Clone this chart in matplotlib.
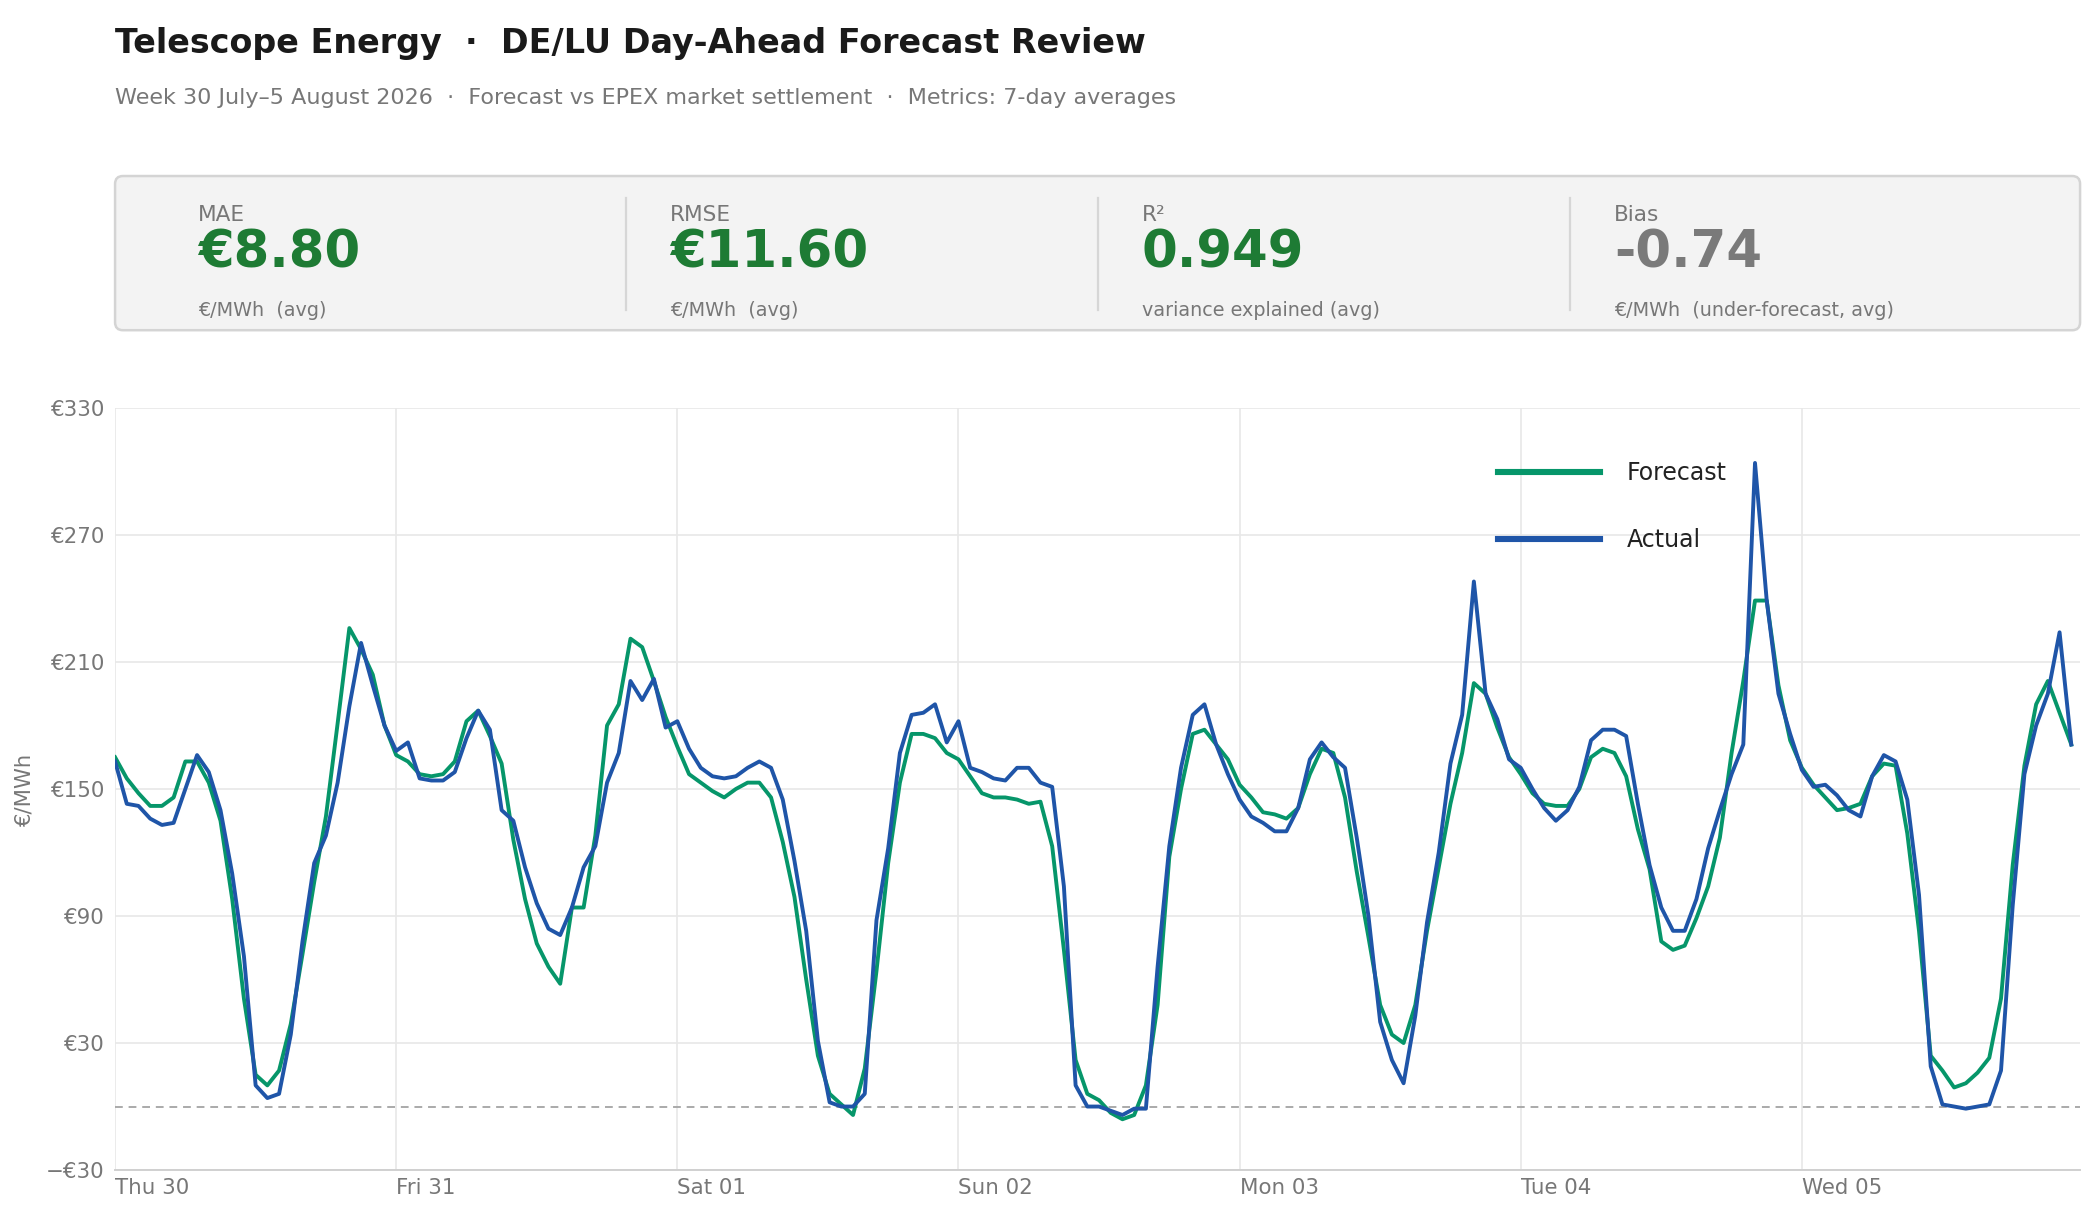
import numpy as np
import pandas as pd
import matplotlib
matplotlib.use('Agg')
import matplotlib.pyplot as plt
from matplotlib.patches import FancyBboxPatch

# hourly day-ahead prices, EUR/MWh (Thu 30 Jul .. Wed 05 Aug 2026)
forecast_thu = [165, 155, 148, 142, 142, 146, 163, 163, 153, 135, 98, 51, 15, 10, 17, 39, 72, 106, 137, 181, 226, 216, 204, 180]
forecast_fri = [166, 163, 157, 156, 157, 163, 182, 187, 175, 162, 126, 98, 77, 66, 58, 94, 94, 128, 180, 190, 221, 217, 201, 184]
forecast_sat = [170, 157, 153, 149, 146, 150, 153, 153, 146, 125, 99, 60, 24, 6, 1, -4, 18, 64, 115, 153, 176, 176, 174, 167]
forecast_sun = [164, 156, 148, 146, 146, 145, 143, 144, 123, 74, 22, 6, 3, -3, -6, -4, 10, 48, 118, 150, 176, 178, 171, 164]
forecast_mon = [152, 146, 139, 138, 136, 141, 157, 169, 167, 146, 111, 80, 48, 34, 30, 48, 83, 113, 143, 167, 200, 195, 179, 165]
forecast_tue = [157, 148, 143, 142, 142, 150, 165, 169, 167, 156, 131, 112, 78, 74, 76, 89, 104, 127, 167, 201, 239, 239, 199, 173]
forecast_wed = [160, 152, 146, 140, 141, 143, 156, 162, 161, 129, 83, 24, 17, 9, 11, 16, 23, 51, 114, 161, 190, 201, 186, 171]

actual_thu = [163, 143, 142, 136, 133, 134, 150, 166, 158, 140, 110, 71, 10, 4, 6, 34, 78, 115, 128, 153, 189, 219, 199, 180]
actual_fri = [168, 172, 155, 154, 154, 158, 174, 187, 178, 140, 135, 113, 96, 84, 81, 94, 113, 123, 153, 167, 201, 192, 202, 179]
actual_sat = [182, 169, 160, 156, 155, 156, 160, 163, 160, 145, 116, 83, 31, 2, 0, 0, 6, 88, 122, 167, 185, 186, 190, 172]
actual_sun = [182, 160, 158, 155, 154, 160, 160, 153, 151, 104, 10, 0, 0, -2, -4, -1, -1, 66, 123, 160, 185, 190, 171, 157]
actual_mon = [145, 137, 134, 130, 130, 141, 164, 172, 165, 160, 127, 90, 40, 22, 11, 43, 87, 120, 162, 185, 248, 195, 183, 164]
actual_tue = [160, 150, 141, 135, 140, 151, 173, 178, 178, 175, 143, 114, 94, 83, 83, 98, 122, 140, 157, 171, 304, 239, 195, 176]
actual_wed = [159, 151, 152, 147, 140, 137, 156, 166, 163, 145, 100, 19, 1, 0, -1, 0, 1, 17, 95, 157, 180, 195, 224, 171]

forecast = np.array(forecast_thu + forecast_fri + forecast_sat + forecast_sun + forecast_mon + forecast_tue + forecast_wed, dtype=float)
actual = np.array(actual_thu + actual_fri + actual_sat + actual_sun + actual_mon + actual_tue + actual_wed, dtype=float)
hours = pd.date_range('2026-07-30 00:00', periods=len(forecast), freq='h')
days = pd.date_range('2026-07-30', periods=7, freq='D')

kpi_labels = ['MAE', 'RMSE', 'R²', 'Bias']
kpi_values = ['€8.80', '€11.60', '0.949', '-0.74']
kpi_notes = ['€/MWh  (avg)', '€/MWh  (avg)', 'variance explained (avg)', '€/MWh  (under-forecast, avg)']
kpi_colors = ['#1e7b34', '#1e7b34', '#1e7b34', '#7a7a7a']

y_ticks = [-30, 30, 90, 150, 210, 270, 330]

GREEN = '#06966a'
BLUE = '#1f55a8'
GREY = '#777777'

fig = plt.figure(figsize=(10.48, 6.07), dpi=200)

fig.text(0.0549, 0.964, 'Telescope Energy  ·  DE/LU Day-Ahead Forecast Review',
         fontsize=12, fontweight='bold', color='#1a1a1a', va='center')
fig.text(0.0549, 0.9196, 'Week 30 July–5 August 2026  ·  Forecast vs EPEX market settlement  ·  Metrics: 7-day averages',
         fontsize=8, color=GREY, va='center')

# KPI strip
kpi = fig.add_axes([0.0549, 0.728, 0.9375, 0.127])
kpi.set_xlim(0, 1)
kpi.set_ylim(0, 1)
kpi.axis('off')
box = FancyBboxPatch((0, 0), 1, 1, boxstyle='round,pad=0,rounding_size=0.004', mutation_aspect=12.76,
                     fc='#f3f3f3', ec='#d4d4d4', lw=0.9, transform=kpi.transAxes, clip_on=False)
kpi.add_patch(box)
col_x = [0.0422, 0.2824, 0.5226, 0.7628]
for i in range(4):
    kpi.text(col_x[i], 0.75, kpi_labels[i], fontsize=7.8, color=GREY, va='center')
    kpi.text(col_x[i], 0.50, kpi_values[i], fontsize=18.5, fontweight='bold', color=kpi_colors[i], va='center')
    kpi.text(col_x[i], 0.13, kpi_notes[i], fontsize=6.9, color=GREY, va='center')
    if i > 0:
        xd = col_x[i] - 0.0224
        kpi.plot([xd, xd], [0.13, 0.86], color='#d6d6d6', lw=0.8)

# price chart
ax = fig.add_axes([0.0549, 0.0362, 0.9375, 0.6278])
ax.plot(hours, forecast, color=GREEN, lw=1.4, label='Forecast', zorder=3)
ax.plot(hours, actual, color=BLUE, lw=1.4, label='Actual', zorder=3)
ax.axhline(0, color='#aaaaaa', lw=0.7, ls=(0, (4, 3)), zorder=2)

ax.set_ylim(-30, 330)
ax.set_yticks(y_ticks)
ax.set_yticklabels([('−€%d' % -v) if v < 0 else ('€%d' % v) for v in y_ticks])
ax.set_xlim(hours[0], hours[0] + pd.Timedelta(minutes=167 * 60 + 45))
ax.set_xticks(days)
ax.set_xticklabels([d.strftime('%a %d') for d in days], ha='left')
ax.tick_params(axis='both', length=0, labelsize=7.7, labelcolor=GREY)
ax.tick_params(axis='x', pad=3)
ax.tick_params(axis='y', pad=4)
ax.grid(color='#e8e8e8', lw=0.6, zorder=0)
for s in ['left', 'top', 'right']:
    ax.spines[s].set_visible(False)
ax.spines['bottom'].set_color('#d0d0d0')
ax.spines['bottom'].set_linewidth(0.7)
ax.set_ylabel('€/MWh', fontsize=7.6, color=GREY)
ax.yaxis.set_label_coords(-0.041, 0.5)

leg = ax.legend(loc='upper left', bbox_to_anchor=(0.704, 0.93), frameon=False, fontsize=8.5,
                handlelength=4.3, handletextpad=1.15, labelspacing=1.82, borderaxespad=0, borderpad=0)
for ln in leg.get_lines():
    ln.set_linewidth(2.2)
for t in leg.get_texts():
    t.set_color('#222222')

fig.savefig('out.png', dpi=200)
